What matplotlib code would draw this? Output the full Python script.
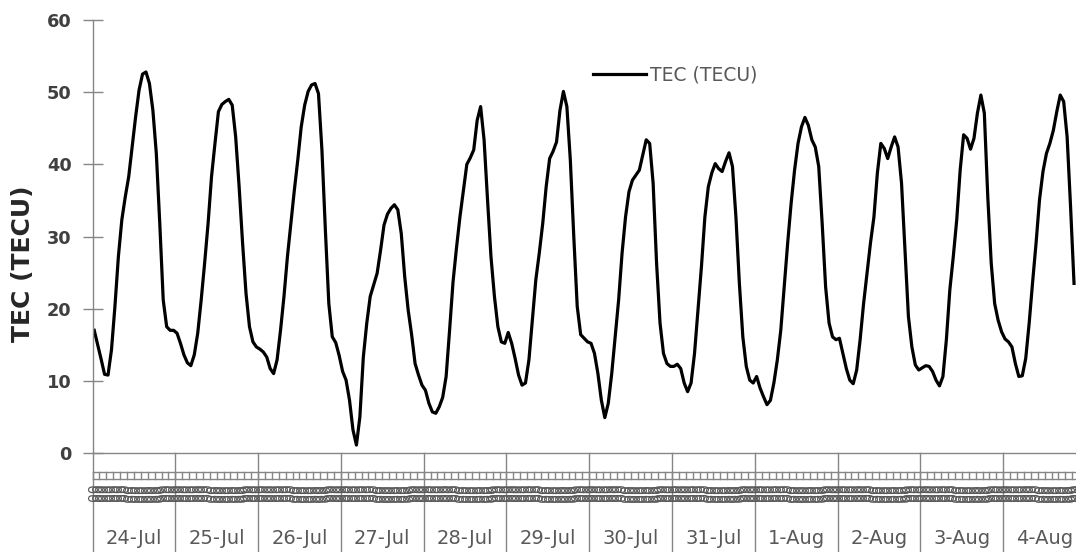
import matplotlib
matplotlib.use("Agg")
import matplotlib.pyplot as plt
import matplotlib.transforms as mtransforms
import numpy as np

# TEC (TECU)，1時間ごと、1日24点
dates = ["24-Jul", "25-Jul", "26-Jul", "27-Jul", "28-Jul", "29-Jul",
         "30-Jul", "31-Jul", "1-Aug", "2-Aug", "3-Aug", "4-Aug"]
hours = ["%02d:00" % h for h in range(24)]

jul24 = [17.0, 15.0, 13.0, 10.9, 10.8, 14.3, 20.3, 27.2, 32.3, 35.5, 38.3, 42.4,
         46.6, 50.3, 52.5, 52.8, 51.2, 47.5, 41.5, 31.8, 21.2, 17.5, 17.0, 17.0]
jul25 = [16.6, 15.2, 13.6, 12.5, 12.1, 13.6, 16.6, 21.2, 26.3, 31.8, 38.3, 42.9,
         47.3, 48.3, 48.7, 49.0, 48.2, 43.8, 36.9, 29.1, 22.1, 17.5, 15.4, 14.7]
jul26 = [14.4, 14.0, 13.3, 11.7, 11.0, 12.9, 17.0, 21.7, 27.2, 31.8, 36.4, 40.6,
         45.2, 48.2, 50.1, 51.0, 51.2, 49.8, 42.0, 30.9, 20.7, 16.1, 15.3, 13.5]
jul27 = [11.3, 10.1, 7.3, 3.2, 1.1, 5.0, 13.3, 18.0, 21.7, 23.3, 24.9, 28.1,
         31.6, 33.1, 33.9, 34.4, 33.7, 30.4, 24.4, 19.8, 16.4, 12.4, 10.8, 9.4]
jul28 = [8.7, 6.9, 5.7, 5.5, 6.4, 7.7, 10.6, 17.0, 23.7, 28.4, 32.7, 36.4,
         40.0, 40.9, 42.0, 46.1, 48.0, 43.4, 35.1, 27.2, 21.7, 17.5, 15.4, 15.2]
jul29 = [16.7, 15.2, 13.1, 10.8, 9.4, 9.7, 12.9, 18.4, 24.0, 27.7, 31.8, 36.9,
         40.8, 41.8, 43.1, 47.5, 50.1, 48.0, 40.6, 30.0, 20.3, 16.4, 15.9, 15.4]
jul30 = [15.2, 13.8, 11.0, 7.3, 4.9, 6.9, 11.0, 16.1, 21.2, 27.7, 32.7, 36.2,
         37.8, 38.5, 39.2, 41.3, 43.4, 42.9, 37.4, 26.3, 18.0, 13.8, 12.4, 12.0]
jul31 = [12.0, 12.3, 11.7, 9.7, 8.5, 9.7, 13.8, 19.8, 25.8, 32.7, 36.9, 38.8,
         40.1, 39.4, 39.0, 40.4, 41.6, 39.7, 32.7, 23.5, 16.1, 12.0, 10.1, 9.7]
aug1 = [10.6, 9.0, 7.8, 6.7, 7.3, 9.7, 12.9, 17.0, 23.0, 29.1, 34.6, 39.2,
        42.9, 45.2, 46.5, 45.4, 43.4, 42.4, 39.7, 31.8, 23.0, 18.0, 16.1, 15.7]
aug2 = [15.9, 13.8, 11.7, 10.1, 9.6, 11.5, 15.7, 20.7, 24.9, 29.1, 32.7, 38.8,
        42.9, 42.2, 40.8, 42.4, 43.8, 42.4, 37.4, 28.1, 18.9, 14.7, 12.2, 11.5]
aug3 = [11.8, 12.1, 12.0, 11.3, 10.1, 9.3, 10.6, 15.7, 22.6, 27.2, 32.3, 39.2,
        44.1, 43.6, 42.1, 43.6, 47.1, 49.6, 47.1, 35.5, 26.3, 20.7, 18.4, 16.8]
aug4 = [15.8, 15.4, 14.7, 12.4, 10.6, 10.7, 13.1, 18.0, 23.7, 29.1, 35.1, 39.0,
        41.5, 42.9, 44.7, 47.3, 49.6, 48.7, 43.8, 34.1, 23.5]  # 以降は図の外

tec = np.array(jul24 + jul25 + jul26 + jul27 + jul28 + jul29 +
               jul30 + jul31 + aug1 + aug2 + aug3 + aug4)
xk = np.arange(len(tec)) + 0.5
nday = len(dates)

W, H = 1076, 552
fig = plt.figure(figsize=(W/100, H/100), dpi=100)
# 右端は図の外にはみ出す（元画像が切れている）
ax = fig.add_axes([92.5/W, 1-453/H, 82.8*nday/W, 433/H])

gray = "#868686"
ax.plot(xk, tec, color="black", lw=2.3, label="TEC (TECU)", solid_joinstyle="round")
ax.set_xlim(0, 24*nday)
ax.set_ylim(0, 60)
ax.set_yticks(np.arange(0, 61, 10))
ax.set_xticks([])
for s in ["top", "right"]:
    ax.spines[s].set_visible(False)
for s in ["left", "bottom"]:
    ax.spines[s].set_color(gray)
    ax.spines[s].set_linewidth(1.0)
ax.tick_params(axis="y", direction="inout", length=14, width=1.0, color=gray,
               pad=8, labelsize=12.8, labelcolor="#404040")
for t in ax.get_yticklabels():
    t.set_fontweight("bold")

fig.text(23/W, 1-264/H, "TEC (TECU)", rotation=90, ha="center", va="center",
         fontsize=18, fontweight="bold", color="#262626")

# 分類軸（時刻・日付）
tr = mtransforms.blended_transform_factory(ax.transData, fig.transFigure)
def fy(py):
    return 1 - py/H

for d in range(nday + 1):
    ax.plot([24*d, 24*d], [fy(453), fy(552)], transform=tr, color=gray, lw=1.0, clip_on=False)
for py in (472, 479):
    ax.plot([0, 24*nday], [fy(py), fy(py)], transform=tr, color=gray, lw=1.0, clip_on=False)
for m in range(12*nday + 1):
    ax.plot([2*m, 2*m], [fy(472), fy(479)], transform=tr, color=gray, lw=1.0, clip_on=False)

clip = mtransforms.TransformedBbox(mtransforms.Bbox.from_extents(0, fy(504), 1, fy(482)),
                                   fig.transFigure)
for k in range(24*nday):
    t = ax.text(k + 0.5, fy(483), hours[k % 24], transform=tr, rotation=90,
                ha="center", va="top", fontsize=10, color="#595959")
    t.set_clip_on(True)
    t.set_clip_box(clip)

for d, lab in enumerate(dates):
    ax.text(24*d + 12, fy(538), lab, transform=tr, ha="center", va="center",
            fontsize=14, color="#595959")

ax.legend(loc="center left", bbox_to_anchor=(593/W, fy(75)), bbox_transform=fig.transFigure,
          frameon=False, fontsize=13.5, handlelength=2.8, handletextpad=0.25,
          borderpad=0, borderaxespad=0, labelcolor="#595959")

fig.savefig("out.png", dpi=100)
